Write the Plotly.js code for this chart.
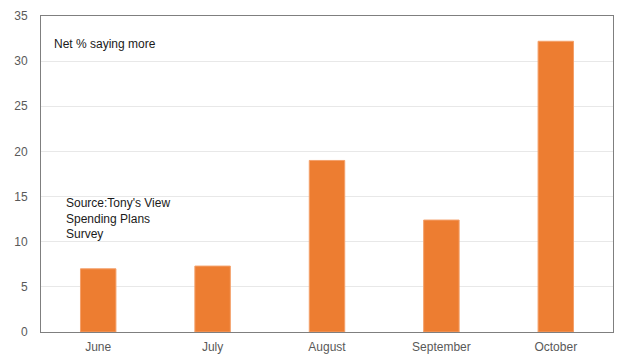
<!DOCTYPE html>
<html><head><meta charset="utf-8">
<script src="https://cdn.plot.ly/plotly-3.0.1.min.js"></script>
<style>html,body{margin:0;padding:0;background:#fff}#chart{width:620px;height:356px}</style>
</head><body><div id="chart"></div>
<script>
const months = ["June", "July", "August", "September", "October"];
const netSayingMore = [7.0, 7.3, 19.0, 12.4, 32.2];
const yTicks = [0, 5, 10, 15, 20, 25, 30, 35];

const trace = {
  type: "bar",
  x: months,
  y: netSayingMore,
  width: 0.31,
  marker: {color: "#ED7D31", line: {color: "#F4A06A", width: 1}},
  hoverinfo: "x+y"
};

const layout = {
  width: 620, height: 356,
  margin: {l: 41, r: 7, t: 16, b: 24, pad: 0},
  paper_bgcolor: "#ffffff", plot_bgcolor: "#ffffff",
  showlegend: false,
  font: {family: "Liberation Sans, Arial, sans-serif", size: 12, color: "#595959"},
  xaxis: {
    showgrid: false, showline: true, linecolor: "#7f7f7f", linewidth: 1, mirror: true,
    ticks: "", tickfont: {size: 12, color: "#595959"}, ticklabelstandoff: 4
  },
  yaxis: {
    range: [0, 35], tickvals: yTicks, ticktext: yTicks.map(String),
    showgrid: true, gridcolor: "#e8e8e8", gridwidth: 1, zeroline: false,
    showline: true, linecolor: "#7f7f7f", linewidth: 1, mirror: true,
    ticks: "", tickfont: {size: 12, color: "#595959"}, ticklabelstandoff: 10
  },
  annotations: [
    {xref: "paper", yref: "paper", x: 0.02, y: 0.911, xanchor: "left", yanchor: "middle",
     text: "Net % saying more", showarrow: false, font: {size: 12, color: "#1a1a1a"}},
    {xref: "paper", yref: "paper", x: 0.041, y: 0.358, xanchor: "left", yanchor: "middle", align: "left",
     text: "Source:Tony's View<br>Spending Plans<br>Survey", showarrow: false,
     font: {size: 12, color: "#1a1a1a"}}
  ]
};

Plotly.newPlot("chart", [trace], layout, {displayModeBar: false, staticPlot: true});
</script>
</body></html>
